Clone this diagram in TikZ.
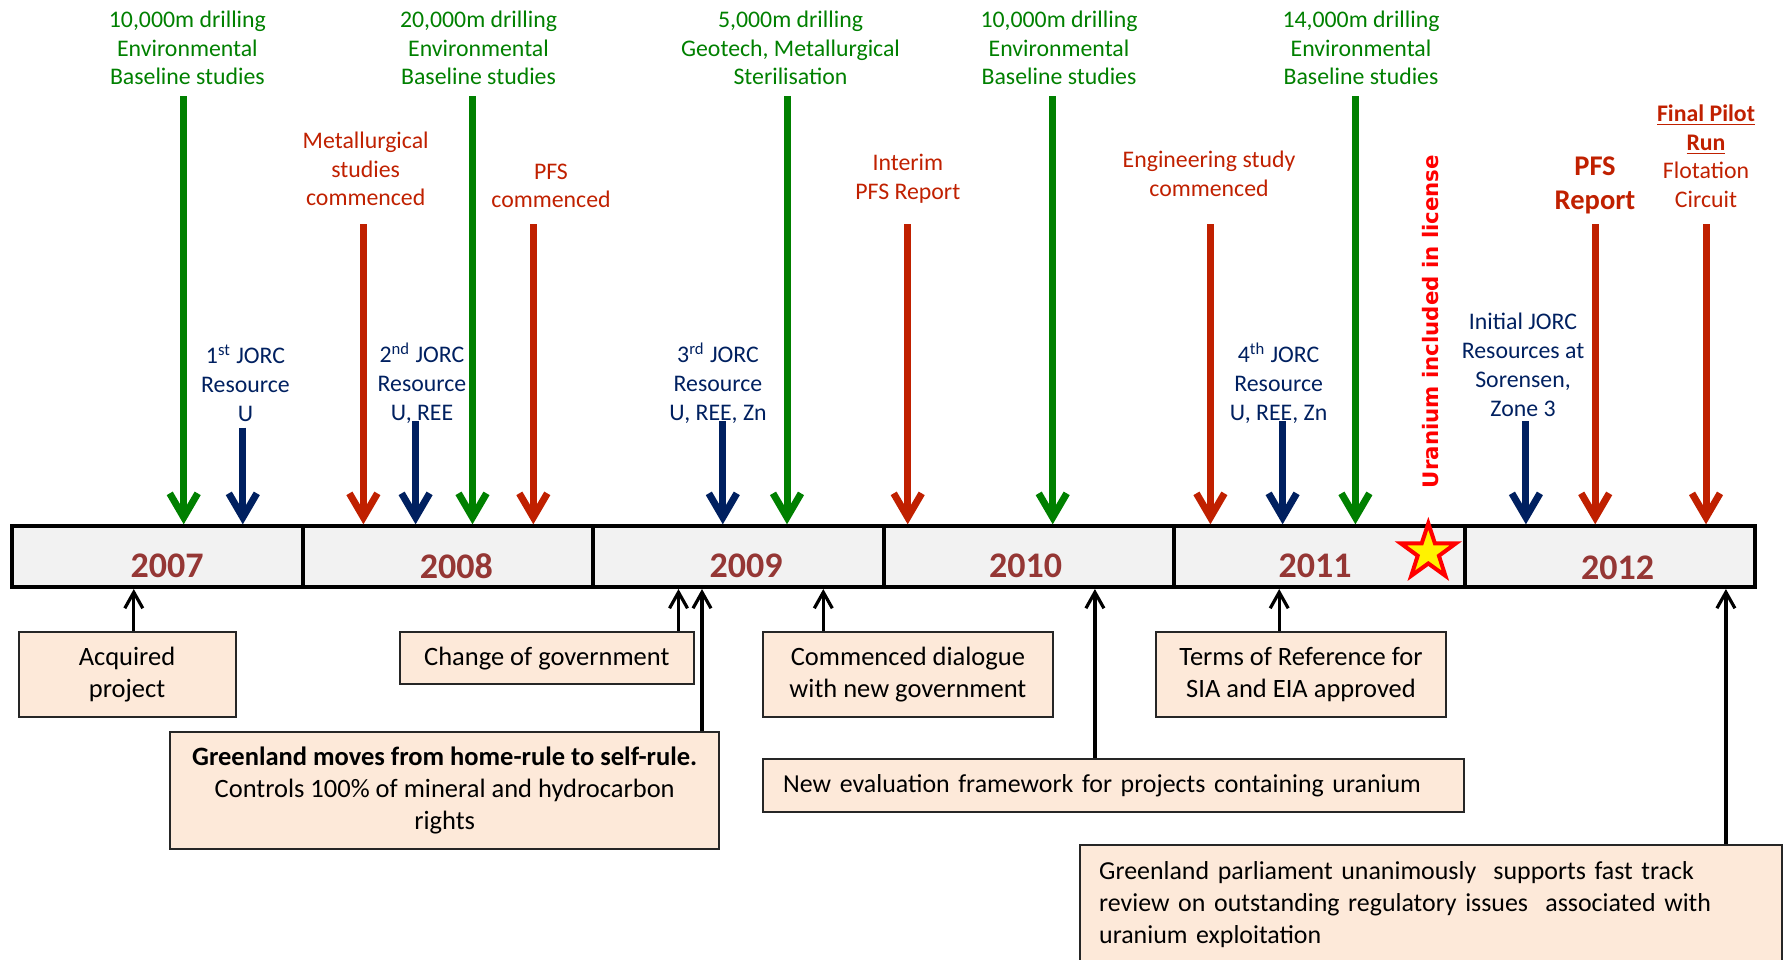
\documentclass[tikz,border=0pt]{standalone}
\usepackage{fontspec}
\setmainfont{Carlito}
\newfontfamily\verafont{DejaVu Sans}
\usetikzlibrary{arrows.meta, shapes.geometric, positioning}
\definecolor{drillgreen}{RGB}{0,128,0}
\definecolor{studyred}{RGB}{192,32,0}
\definecolor{jorcblue}{RGB}{0,32,96}
\definecolor{yearred}{RGB}{149,55,53}
\definecolor{barfill}{RGB}{242,242,242}
\definecolor{boxfill}{RGB}{253,233,217}

\tikzset{
  cell/.style={draw, line width=2pt, fill=barfill, minimum width=145.25pt, minimum height=30.35pt, inner sep=0pt},
  year/.style={text=yearred, font=\fontsize{18}{20}\selectfont\bfseries, inner sep=0pt},
  lbl/.style={align=center, inner sep=0pt, font=\fontsize{11.9}{14.35}\selectfont},
  event/.style={line width=3.5pt, -{Straight Barb[length=12pt,width=14pt]}},
  box/.style={draw=black!85, line width=1pt, fill=boxfill, inner sep=0pt, align=center, font=\fontsize{13.25}{16.15}\selectfont},
  widebox/.style={box, align=left, font=\fontsize{12.95}{16.15}\selectfont},
  link/.style={line width=1.6pt, -{Straight Barb[length=8pt,width=9pt]}},
}

\begin{document}
\begin{tikzpicture}[x=0.5pt, y=-0.5pt]
  \useasboundingbox (0,0) rectangle (1786,959);

  \foreach \yr [count=\i from 0] in {2007,...,2012}
    \node[cell] (c\yr) at ({157.25+290.5*\i},556.65) {};

  \foreach \yr/\x/\y in {2007/167/566, 2008/456.4/566, 2009/746/566,
                         2010/1025.6/566, 2011/1315/566, 2012/1617.7/567.5}
    \node[year] (t\yr) at (\x,\y) {\yr};

  \node[star, star points=5, star point ratio=2.6, minimum size=29pt, inner sep=0pt,
        draw=red, fill=yellow, line width=2pt] (st) at (1428.3,552.3) {};

  \foreach \n/\lx/\ax/\txt in {
      g1/187.4/183.7/{10,000m drilling\\Environmental\\Baseline studies},
      g2/478.5/472.5/{20,000m drilling\\Environmental\\Baseline studies},
      g3/790.5/787/{5,000m drilling\\Geotech, Metallurgical\\Sterilisation},
      g4/1059/1052.7/{10,000m drilling\\Environmental\\Baseline studies},
      g5/1361/1355.4/{14,000m drilling\\Environmental\\Baseline studies}}
  {
    \node[lbl, text=drillgreen] (\n) at (\lx,48) {\txt};
    \path (\ax,96) node[coordinate] (a\n) {};
    \draw[event, drillgreen] (a\n) -- (a\n |- c2007.north);
  }

  \foreach \n/\lx/\ly/\ax/\txt in {
      r1/365.7/169/363.4/{Metallurgical\\studies\\commenced},
      r2/551/186/533.3/{PFS\\commenced},
      r3/907.8/178.5/907.7/{Interim\\PFS Report},
      r4/1209/174/1210.4/{Engineering study\\commenced},
      r6/1706/156.3/1706/{\textbf{\underline{Final Pilot}}\\\textbf{\underline{Run}}\\Flotation\\Circuit}}
  {
    \node[lbl, text=studyred] (\n) at (\lx,\ly) {\txt};
    \path (\ax,224) node[coordinate] (a\n) {};
    \draw[event, studyred] (a\n) -- (a\n |- c2007.north);
  }

  \node[lbl, text=studyred, font=\fontsize{14.25}{17.2}\selectfont\bfseries] (r5) at (1595,185.6) {PFS\\Report};
  \path (1595.2,224) node[coordinate] (ar5) {};
  \draw[event, studyred] (ar5) -- (ar5 |- c2012.north);

  \foreach \n/\lx/\ly/\ax/\ay/\txt in {
      b1/245.5/383/242.8/427.5/{1\textsuperscript{st} JORC\\Resource\\U},
      b2/422/383/415.6/421/{2\textsuperscript{nd} JORC\\Resource\\U, REE},
      b3/718/383/722.8/421/{3\textsuperscript{rd} JORC\\Resource\\U, REE, Zn},
      b4/1278.6/383/1282.6/421/{4\textsuperscript{th} JORC\\Resource\\U, REE, Zn},
      b5/1523/364.8/1525.9/421/{Initial JORC\\Resources at\\Sorensen,\\Zone 3}}
  {
    \node[lbl, text=jorcblue] (\n) at (\lx,\ly) {\txt};
    \path (\ax,\ay) node[coordinate] (a\n) {};
    \draw[event, jorcblue] (a\n) -- (a\n |- c2007.north);
  }

  \node[rotate=90, inner sep=0pt, text=red, font=\verafont\bfseries\fontsize{10.65}{12}\selectfont]
    (ur) at (1430.5,321.5) {Uranium included in license};

  \node[box, minimum width=108.5pt, minimum height=42.35pt] (acq) at (127,674.7) {Acquired\\project};
  \node[box, minimum width=146.75pt, minimum height=26pt] (chg) at (546.8,658.3) {Change of government};
  \node[box, minimum width=274.65pt, minimum height=58.2pt] (slf) at (444.7,790.5)
    {\textbf{Greenland moves from home-rule to self-rule.}\\Controls 100\% of mineral and hydrocarbon\\rights};
  \node[box, minimum width=144.7pt, minimum height=42.35pt] (dlg) at (907.9,674.7) {Commenced dialogue\\with new government};
  \node[box, minimum width=144.7pt, minimum height=42.35pt] (tor) at (1301,674.7) {Terms of Reference for\\SIA and EIA approved};
  \node[widebox, text width=330.5pt, inner xsep=10pt, minimum height=26.35pt] (frm) at (1113.7,785.4)
    {New evaluation framework for projects containing uranium};
  \node[widebox, anchor=north west, text width=331.65pt, inner xsep=9.6pt, inner ysep=8pt] (prl) at (1079,844.3)
    {Greenland parliament unanimously\ \ supports fast track\\review on outstanding regulatory issues\ \ associated with\\uranium exploitation};

  \foreach \b/\x in {acq/133.8, chg/678.5, slf/702, dlg/823.3, frm/1094.9, tor/1279.2, prl/1725.9}
  {
    \path (\x,0) node[coordinate] (k\b) {};
    \draw[link] (\b.north -| k\b) -- (k\b |- c2007.south);
  }
\end{tikzpicture}
\end{document}
